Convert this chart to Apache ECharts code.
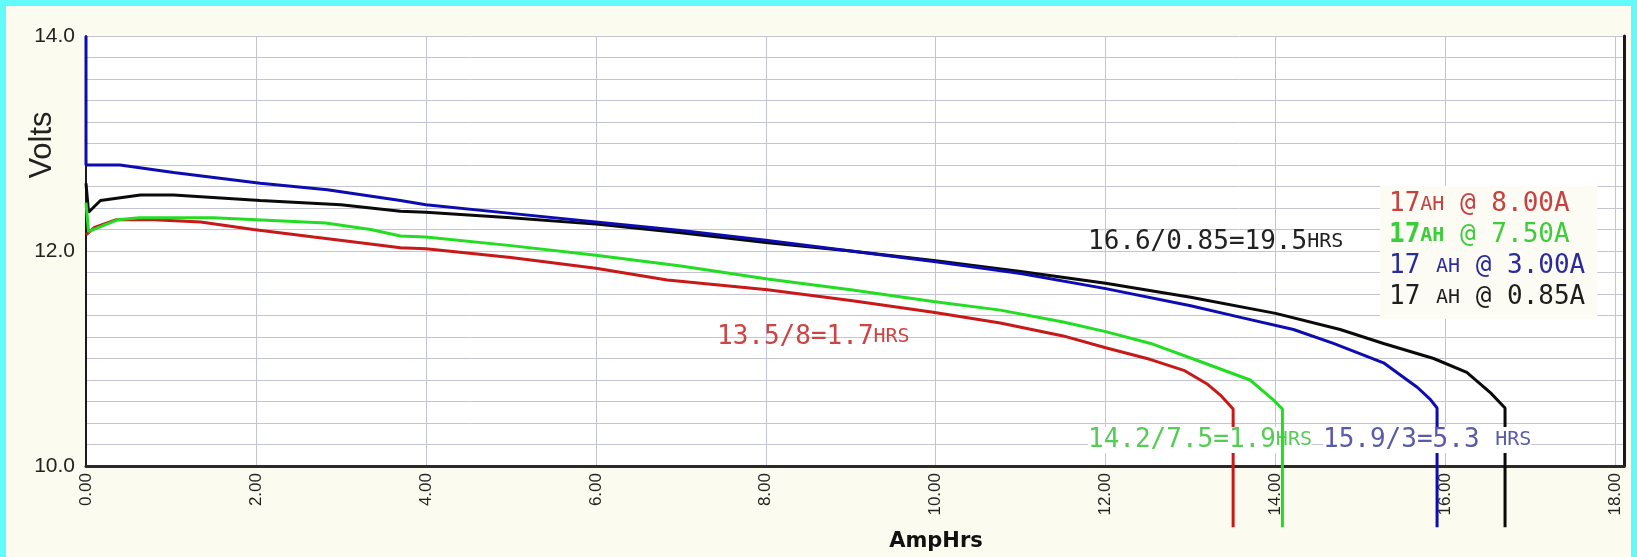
<!DOCTYPE html>
<html>
<head>
<meta charset="utf-8">
<title>Battery discharge</title>
<script src="https://cdn.jsdelivr.net/npm/echarts@6/dist/echarts.min.js"></script>
<style>
  html, body { margin: 0; padding: 0; background: #62fafa; }
  #discharge-chart { position: absolute; left: 6px; top: 6px; width: 1625px; height: 551px; }
</style>
</head>
<body>
<div id="discharge-chart"></div>
<script>
// [AmpHrs, Volts]
const red8A = [
  [0, 12.15], [0.1, 12.22], [0.35, 12.29], [0.8, 12.29], [1.35, 12.27], [1.97, 12.2],
  [2.68, 12.13], [3.3, 12.07], [3.7, 12.03], [4, 12.02], [5, 11.94], [6, 11.84],
  [6.84, 11.73], [8.02, 11.64], [9, 11.54], [9.97, 11.43], [10.76, 11.33], [11.5, 11.21],
  [12, 11.1], [12.53, 10.99], [12.92, 10.89], [13.2, 10.76], [13.35, 10.66], [13.5, 10.53],
  [13.5, 9.43]
];
const green7_5A = [
  [0, 12.45], [0.03, 12.18], [0.15, 12.22], [0.37, 12.29], [0.63, 12.31], [1.5, 12.31],
  [2.82, 12.26], [3.35, 12.2], [3.7, 12.14], [4, 12.13], [5, 12.05], [6, 11.96],
  [7, 11.86], [8.02, 11.74], [9, 11.64], [9.97, 11.53], [10.76, 11.45], [11.5, 11.34],
  [12, 11.25], [12.53, 11.14], [13.12, 10.97], [13.7, 10.8], [13.98, 10.61], [14.08, 10.53],
  [14.08, 9.43]
];
const blue3A = [
  [0, 14.0], [0, 12.8], [0.4, 12.8], [1.03, 12.73], [2.05, 12.63], [2.84, 12.57],
  [3.7, 12.47], [4, 12.43], [5, 12.35], [6, 12.27], [7, 12.19], [8, 12.1], [9, 12.0],
  [10, 11.9], [11, 11.79], [12, 11.65], [13, 11.49], [13.6, 11.38], [14.21, 11.27],
  [14.68, 11.14], [15.27, 10.96], [15.67, 10.73], [15.82, 10.62], [15.9, 10.54],
  [15.9, 9.43]
];
const black0_85A = [
  [0, 12.63], [0.03, 12.36], [0.17, 12.47], [0.64, 12.52], [1.03, 12.52], [2.05, 12.47],
  [3, 12.43], [3.7, 12.37], [4, 12.36], [5, 12.31], [6, 12.25], [7, 12.17], [8, 12.08],
  [9, 12.0], [10, 11.91], [11, 11.81], [12, 11.7], [13, 11.57], [14, 11.42], [14.76, 11.27],
  [15.27, 11.14], [15.86, 11.0], [16.25, 10.87], [16.53, 10.68], [16.7, 10.54],
  [16.7, 9.43]
];

const seriesNames = ['17AH @ 8.00A', '17AH @ 7.50A', '17 AH @ 3.00A', '17 AH @ 0.85A'];
const lineColors = ['#c81818', '#22dd22', '#0c0cb0', '#0a0a0a'];
const legendColors = ['#c84040', '#3ccc3c', '#2b2b9c', '#1e1e1e'];
const runtimeNotes = ['13.5/8=1.7', '14.2/7.5=1.9', '15.9/3=5.3 ', '16.6/0.85=19.5'];

const monoFont = '"DejaVu Sans Mono", "Liberation Mono", monospace';

function makeSeries(name, data, color, z) {
  return {
    name: name,
    type: 'line',
    data: data,
    showSymbol: false,
    symbol: 'none',
    clip: false, // let the cut-off drops run below the axis
    z: z,
    lineStyle: { color: color, width: 3 },
    itemStyle: { color: color },
    animation: false,
  };
}

function noteText(text, x, y, color, bg) {
  return {
    type: 'text',
    x: x,
    y: y,
    z: 50,
    style: {
      text: text + '{sc|HRS}',
      fill: color,
      fontFamily: monoFont,
      fontSize: 26,
      verticalAlign: 'middle',
      backgroundColor: bg || 'transparent',
      rich: { sc: { fontSize: 20, fontFamily: monoFont } },
    },
  };
}

let chart = echarts.init(document.getElementById('discharge-chart'));

let option = {
  backgroundColor: '#fbfbef',
  animation: false,
  grid: {
    left: 80, right: 7, top: 30, bottom: 91,
    show: true, backgroundColor: '#ffffff', borderWidth: 0,
  },
  legend: {
    orient: 'vertical',
    left: 1374,
    top: 180,
    itemWidth: 0,
    itemHeight: 0,
    itemGap: 0,
    icon: 'none',
    selectedMode: false,
    padding: [3, 12, 6, 4],
    backgroundColor: '#fcfcf4',
    data: seriesNames.map((n, i) => ({ name: n, textStyle: { color: legendColors[i] } })),
    formatter: (name) => {
      let parts = name.split('AH');
      let lead = name.indexOf('7.50') > 0 ? '{bd|' + parts[0] + '}{sb|AH}' : parts[0] + '{sc|AH}';
      return lead + parts[1];
    },
    textStyle: {
      fontFamily: monoFont,
      fontSize: 26,
      lineHeight: 31,
      rich: {
        sc: { fontSize: 20, fontFamily: monoFont, lineHeight: 31 },
        sb: { fontSize: 20, fontFamily: monoFont, fontWeight: 'bold', lineHeight: 31 },
        bd: { fontSize: 26, fontFamily: monoFont, fontWeight: 'bold', lineHeight: 31 },
      },
    },
  },
  xAxis: {
    type: 'value',
    min: 0,
    max: 18.1,
    interval: 2,
    axisLine: { show: true, onZero: false, lineStyle: { color: '#2a2a2a', width: 3 } },
    axisTick: { show: false },
    axisLabel: {
      rotate: 90,
      margin: 7,
      fontSize: 17,
      fontFamily: 'Liberation Sans',
      color: '#222',
      formatter: (v) => (Math.abs(v % 2) < 1e-9 ? v.toFixed(2) : ''),
    },
    splitLine: { show: true, lineStyle: { color: '#c2c2da', width: 1 } },
  },
  yAxis: [
    {
      type: 'value',
      min: 10,
      max: 14,
      interval: 2,
      axisLine: { show: true, lineStyle: { color: '#1a1a1a', width: 2 } },
      axisTick: { show: false },
      axisLabel: {
        fontSize: 21,
        fontFamily: 'Liberation Sans',
        color: '#222',
        margin: 11,
        formatter: (v) => v.toFixed(1),
      },
      splitLine: { show: true, lineStyle: { color: '#c4c4d2', width: 1 } },
      minorTick: { show: false, splitNumber: 10 },
      minorSplitLine: { show: true, lineStyle: { color: '#c4c4d2', width: 1 } },
    },
    {
      type: 'value',
      position: 'right',
      min: 10,
      max: 14,
      axisLine: { show: true, lineStyle: { color: '#1a1a1a', width: 3 } },
      axisTick: { show: false },
      axisLabel: { show: false },
      splitLine: { show: false },
    },
  ],
  graphic: [
    {
      type: 'text', x: 36, y: 139, rotation: Math.PI / 2, z: 50,
      style: {
        text: 'Volts', fill: '#222', fontFamily: 'Liberation Sans', fontSize: 31,
        align: 'center', verticalAlign: 'middle',
      },
    },
    {
      type: 'text', x: 930, y: 536, z: 50,
      style: {
        text: 'AmpHrs', fill: '#111', fontFamily: 'DejaVu Sans', fontWeight: 'bold',
        fontSize: 21, align: 'center', verticalAlign: 'middle',
      },
    },
    noteText(runtimeNotes[0], 711, 331, '#cc4444'),
    noteText(runtimeNotes[1], 1082, 434, '#55cc55', '#ffffff'),
    noteText(runtimeNotes[2], 1317, 434, '#5a5aaa', '#ffffff'),
    noteText(runtimeNotes[3], 1082, 236, '#222222'),
  ],
  series: [
    makeSeries(seriesNames[3], black0_85A, lineColors[3], 3),
    makeSeries(seriesNames[2], blue3A, lineColors[2], 4),
    makeSeries(seriesNames[0], red8A, lineColors[0], 5),
    makeSeries(seriesNames[1], green7_5A, lineColors[1], 100),
  ],
};

chart.setOption(option);
</script>
</body>
</html>
